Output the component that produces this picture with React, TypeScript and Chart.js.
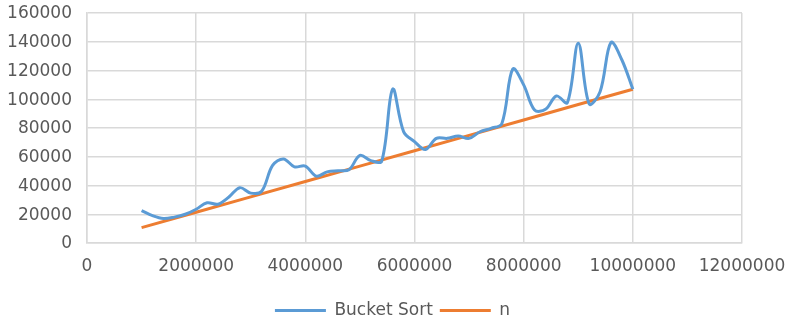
import React, { useEffect, useRef } from "react";
import { Chart, registerables } from "chart.js";

Chart.register(...registerables);

// Input sizes (x) for the Bucket Sort measurements
const bucketSizes = [
  1000000, 1200000, 1400000, 1600000, 1800000, 2000000, 2200000, 2400000, 2600000, 2800000,
  3000000, 3200000, 3400000, 3600000, 3800000, 4000000, 4200000, 4400000, 4600000, 4800000,
  5000000, 5200000, 5400000, 5600000, 5800000, 6000000, 6200000, 6400000, 6600000, 6800000,
  7000000, 7200000, 7400000, 7600000, 7800000, 8000000, 8200000, 8400000, 8600000, 8800000,
  9000000, 9200000, 9400000, 9600000, 9800000, 10000000,
];
// Measured times for Bucket Sort
const bucketTimes = [
  22500, 19000, 17000, 18000, 20000, 23500, 28000, 27000, 32000, 38500,
  34700, 36000, 54000, 58500, 53000, 53500, 46500, 49500, 50300, 51000,
  61000, 57300, 57000, 107000, 77500, 70500, 65000, 72800, 72800, 74400,
  72800, 77400, 79800, 83000, 121000, 110000, 92500, 93000, 102300, 97600,
  139000, 96700, 105300, 139500, 127300, 107000,
];
// Reference line "n"
const nSizes = [1000000, 2000000, 3000000, 4000000, 5000000, 6000000, 7000000, 8000000, 9000000, 10000000];
const nValues = [10700, 21400, 32100, 42800, 53500, 64200, 74900, 85600, 96300, 107000];

const seriesNames = ["Bucket Sort", "n"];
const xTickMin = 0;
const xTickMax = 12000000;
const xTickStep = 2000000;
const yTickMin = 0;
const yTickMax = 160000;
const yTickStep = 20000;

const FONT = "'DejaVu Sans', sans-serif";
const TEXT = "#595959";
const GRID = "#d9d9d9";

export default function App() {
  const canvasRef = useRef<HTMLCanvasElement | null>(null);

  useEffect(() => {
    const canvas = canvasRef.current;
    if (!canvas) return;
    const chart = new Chart(canvas, {
      type: "scatter",
      data: {
        datasets: [
          {
            label: seriesNames[0],
            data: bucketSizes.map((x, i) => ({ x, y: bucketTimes[i] })),
            showLine: true,
            borderColor: "#5b9bd5",
            backgroundColor: "#5b9bd5",
            borderWidth: 3,
            pointRadius: 0,
            pointHoverRadius: 0,
            tension: 0.35,
            pointStyle: "line",
          },
          {
            label: seriesNames[1],
            data: nSizes.map((x, i) => ({ x, y: nValues[i] })),
            showLine: true,
            borderColor: "#ed7d31",
            backgroundColor: "#ed7d31",
            borderWidth: 3,
            pointRadius: 0,
            pointHoverRadius: 0,
            tension: 0,
            pointStyle: "line",
          },
        ],
      },
      options: {
        responsive: false,
        animation: false,
        layout: { padding: { left: 0, top: 13, right: 0, bottom: 0 } },
        plugins: {
          tooltip: { enabled: false },
          legend: {
            position: "bottom",
            maxHeight: 26,
            labels: {
              usePointStyle: true,
              pointStyle: "line",
              pointStyleWidth: 51,
              padding: 7,
              color: TEXT,
              font: { family: FONT, size: 17 },
            },
          },
        },
        scales: {
          x: {
            type: "linear",
            min: xTickMin,
            max: xTickMax,
            grid: { color: GRID, lineWidth: 1.5, drawTicks: false },
            border: { color: GRID, width: 1.5 },
            ticks: {
              stepSize: xTickStep,
              color: TEXT,
              padding: 13,
              font: { family: FONT, size: 17 },
              maxRotation: 0,
              autoSkip: false,
              callback: (v: any) => String(v),
            },
            afterFit: (scale: any) => {
              scale.height = 52;
              scale.paddingLeft = 0;
              scale.paddingRight = 43;
            },
          },
          y: {
            type: "linear",
            min: yTickMin,
            max: yTickMax,
            grid: { color: GRID, lineWidth: 1.5, drawTicks: false },
            border: { color: GRID, width: 1.5 },
            ticks: {
              stepSize: yTickStep,
              color: TEXT,
              padding: 15,
              labelOffset: 1,
              font: { family: FONT, size: 17 },
              callback: (v: any) => String(v),
            },
            afterFit: (scale: any) => {
              scale.width = 87;
              scale.paddingTop = 0;
              scale.paddingBottom = 0;
            },
          },
        },
      },
    });
    return () => chart.destroy();
  }, []);

  return (
    <div style={{ position: "fixed", left: 0, top: 0, width: 785, height: 321, background: "#fff" }}>
      <canvas ref={canvasRef} width={785} height={321} style={{ display: "block" }} />
    </div>
  );
}
